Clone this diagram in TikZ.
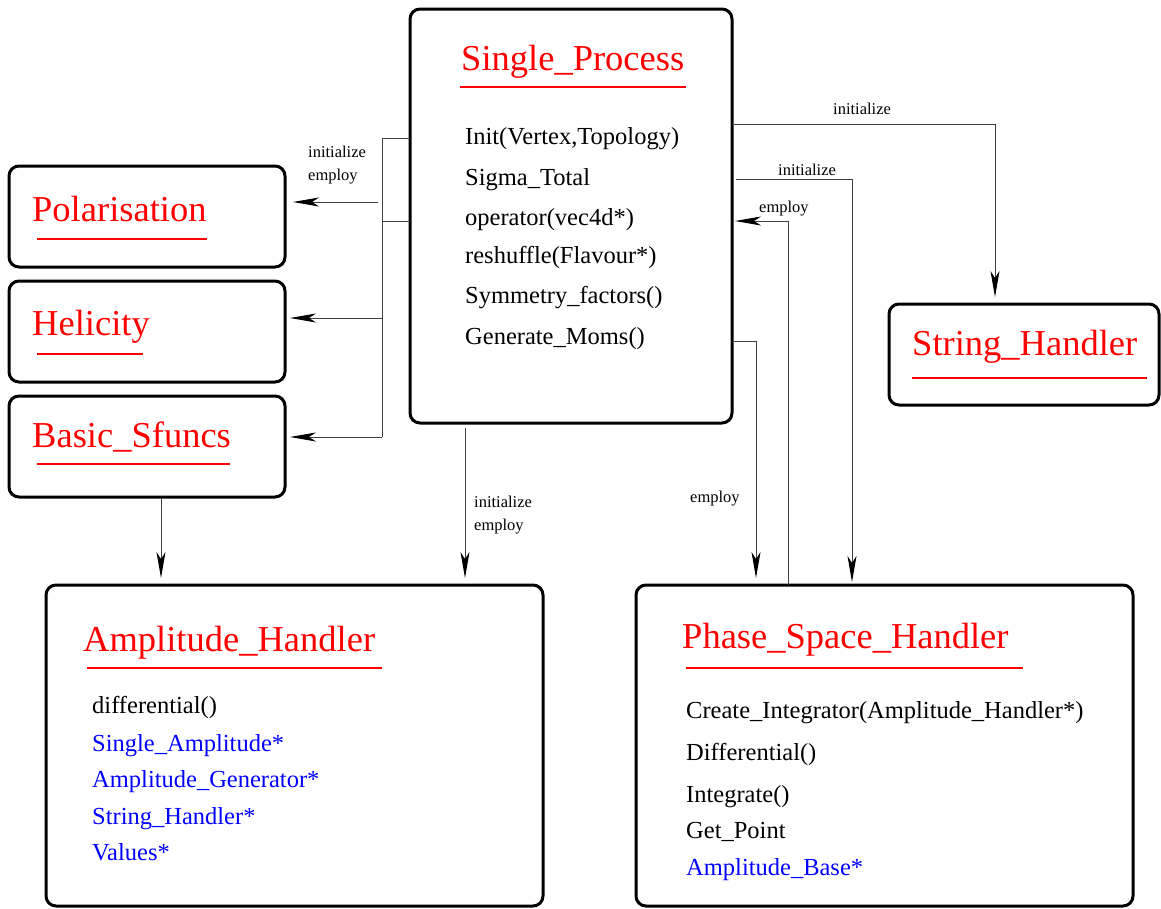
\documentclass[tikz,border=0pt]{standalone}
\usepackage{fontspec}
\setmainfont{Liberation Serif}
\usetikzlibrary{arrows.meta}
\begin{document}
\begin{tikzpicture}[x=1pt,y=-1pt,
  box/.style={draw=black, line width=3pt, rounded corners=10pt, rectangle, inner sep=0pt, outer sep=0pt},
  title/.style={anchor=base west, inner sep=0pt, text=red, font=\fontsize{36.5}{40}\selectfont},
  item/.style={anchor=base west, inner sep=0pt, font=\fontsize{24.5}{28}\selectfont},
  bitem/.style={item, text=blue},
  lbl/.style={anchor=base west, inner sep=0pt, font=\fontsize{16.5}{19}\selectfont},
  uline/.style={draw=red, line width=1.5pt},
  conn/.style={draw=black!75, line width=1pt},
  arr/.style={conn, -{Stealth[length=26pt,width=9pt,inset=7pt,black]}},
]
\useasboundingbox (0,0) rectangle (1161,908);

% boxes
\node[box, minimum width=322pt, minimum height=414pt] (sp) at (571,216) {};
\node[box, minimum width=276pt, minimum height=101pt] (pol) at (147,216.5) {};
\node[box, minimum width=276pt, minimum height=101pt] (hel) at (147,331.5) {};
\node[box, minimum width=276pt, minimum height=101pt] (bsf) at (147,446.5) {};
\node[box, minimum width=270pt, minimum height=101pt] (sh) at (1024,354.5) {};
\node[box, minimum width=497pt, minimum height=321pt] (ah) at (294.5,745.5) {};
\node[box, minimum width=497pt, minimum height=321pt] (psh) at (884.5,745.5) {};

% titles
\node[title] (tsp) at (461,70) {Single\_Process};
\draw[uline] (460,87) -- (686,87);
\node[title] (tpol) at (32,221) {Polarisation};
\draw[uline] (37,239) -- (207,239);
\node[title] (thel) at (32,335) {Helicity};
\draw[uline] (37,354) -- (143,354);
\node[title] (tbsf) at (32,447) {Basic\_Sfuncs};
\draw[uline] (37,464) -- (230,464);
\node[title] (tsh) at (912,355) {String\_Handler};
\draw[uline] (912,378) -- (1147,378);
\node[title] (tah) at (83,651) {Amplitude\_Handler};
\draw[uline] (87,668) -- (382,668);
\node[title] (tpsh) at (682,648) {Phase\_Space\_Handler};
\draw[uline] (686,668) -- (1023,668);

% Single_Process items
\node[item] (sp1) at (465,144) {Init(Vertex,Topology)};
\node[item] (sp2) at (465,185) {Sigma\_Total};
\node[item] (sp3) at (465,225) {operator(vec4d*)};
\node[item] (sp4) at (465,263) {reshuffle(Flavour*)};
\node[item] (sp5) at (465,303) {Symmetry\_factors()};
\node[item] (sp6) at (465,344) {Generate\_Moms()};

% Amplitude_Handler items
\node[item] (ah1) at (92,713) {differential()};
\node[bitem] (ah2) at (92,751) {Single\_Amplitude*};
\node[bitem] (ah3) at (92,787) {Amplitude\_Generator*};
\node[bitem] (ah4) at (92,824) {String\_Handler*};
\node[bitem] (ah5) at (92,860) {Values*};

% Phase_Space_Handler items
\node[item] (ps1) at (686,718) {Create\_Integrator(Amplitude\_Handler*)};
\node[item] (ps2) at (686,760) {Differential()};
\node[item] (ps3) at (686,802) {Integrate()};
\node[item] (ps4) at (686,838) {Get\_Point};
\node[bitem] (ps5) at (686,875) {Amplitude\_Base*};

% connector labels
\node[lbl] (l1) at (308,157) {initialize};
\node[lbl] (l2) at (308,180) {employ};
\node[lbl] (l3) at (474,507) {initialize};
\node[lbl] (l4) at (474,530) {employ};
\node[lbl] (l5) at (833,114) {initialize};
\node[lbl] (l6) at (778,175) {initialize};
\node[lbl] (l7) at (759,212) {employ};
\node[lbl] (l8) at (690,502) {employ};

% junction coordinates
\coordinate (jtop) at (382,138);
\coordinate (jbot) at (382,437);
\coordinate (jmid) at (382,221);
\coordinate (jpol) at (378,202);
\coordinate (jhel) at (382,318);

% left connectors
\draw[conn] (sp.west |- jtop) -- (jtop) -- (jbot);
\draw[conn] (jmid) -- (sp.west |- jmid);
\draw[arr, shorten >=8pt] (jpol) -- (pol.east |- jpol);
\draw[arr, shorten >=5pt] (jhel) -- (hel.east |- jhel);
\draw[arr, shorten >=5pt] (jbot) -- (bsf.east |- jbot);

% downward connectors
\draw[arr, shorten <=2pt, shorten >=7pt] ([xshift=14pt]bsf.south) -- ([xshift=14pt]bsf.south |- ah.north);
\draw[arr, shorten <=5pt, shorten >=7pt] (sp.south -| 465,0) -- (ah.north -| 465,0);

% right connectors
\coordinate (r1) at (995,124);
\draw[arr, shorten >=7pt] (sp.east |- r1) -- (r1) -- (r1 |- sh.north);
\coordinate (r2) at (852,179);
\draw[arr, shorten >=3pt] ([xshift=4pt]sp.east |- r2) -- (r2) -- (r2 |- psh.north);
\coordinate (r3) at (788,221);
\draw[arr, shorten >=3pt] (r3 |- psh.north) -- (r3) -- (sp.east |- r3);
\coordinate (r4) at (756,341);
\draw[arr, shorten >=7pt] (sp.east |- r4) -- (r4) -- (r4 |- psh.north);
\end{tikzpicture}
\end{document}
